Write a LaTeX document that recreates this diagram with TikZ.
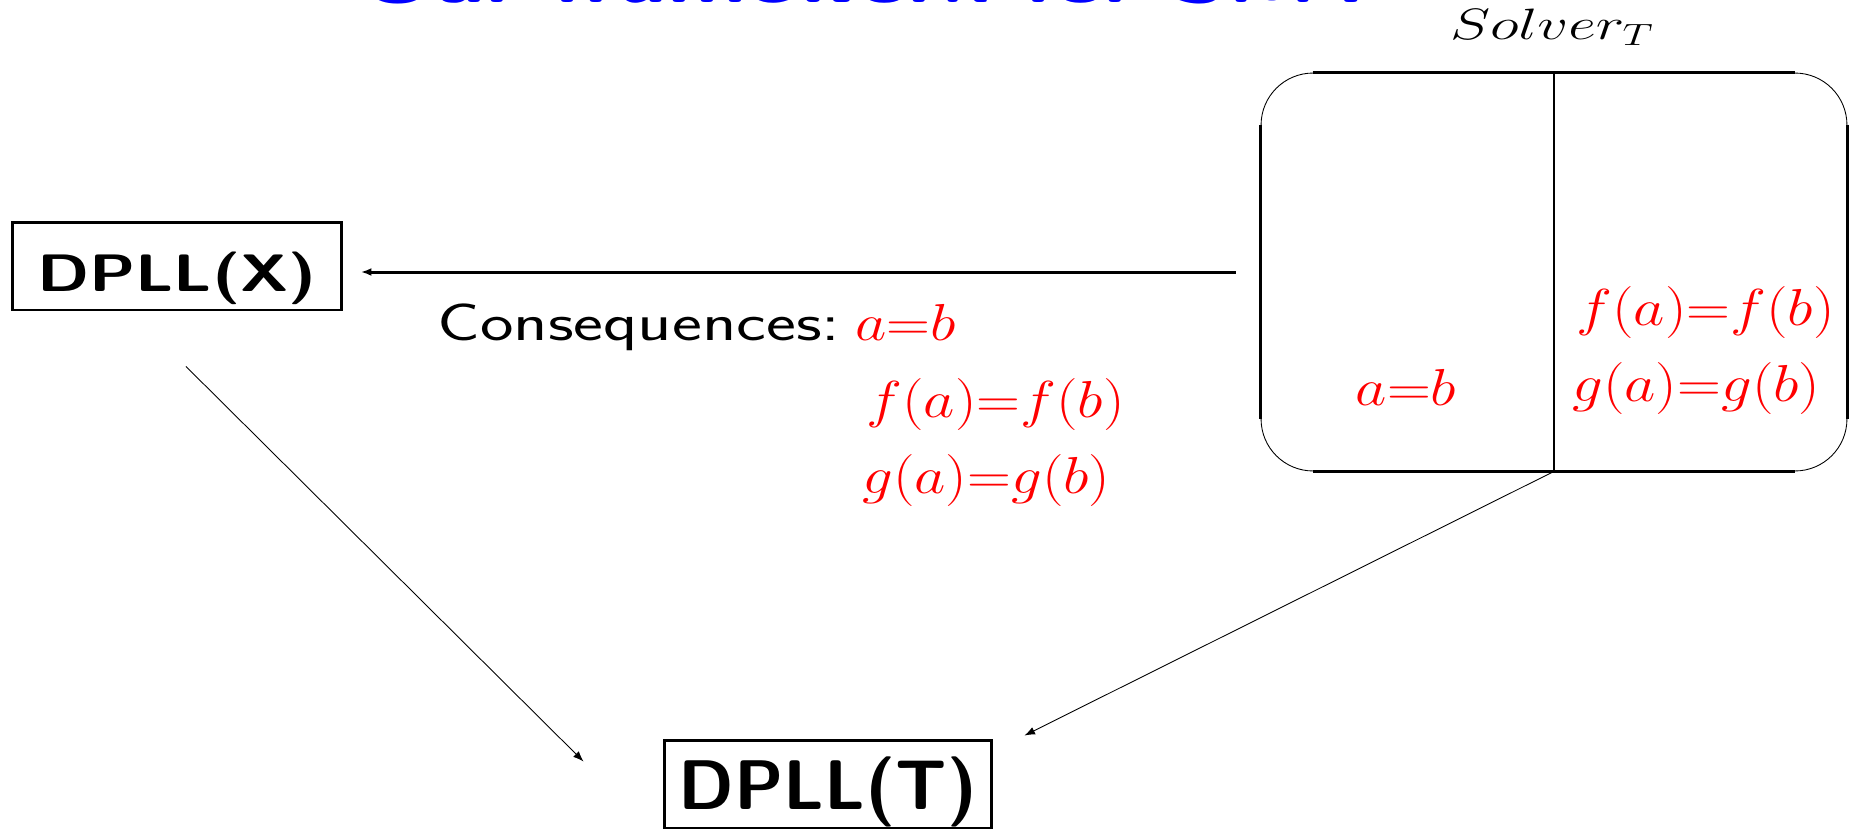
\RequirePackage{fix-cm}
\documentclass[tikz,border=0pt]{standalone}
\usepackage{tikz}
\usetikzlibrary{arrows.meta,positioning,calc}
\tikzset{
  wide/.style={xscale=1.28, inner sep=0pt},
  dpllbox/.style={draw, line width=1.7pt, inner sep=0pt, text height=1.12cm, text depth=0.1cm, minimum height=1.76cm},
  redeq/.style={inner sep=0pt, xscale=1.17, text=red, font=\fontsize{29.6}{35}\selectfont},
  flow/.style={-{Latex[length=6pt,width=4.5pt]}},
}

\begin{document}
\begin{tikzpicture}[x=0.02cm, y=-0.02cm]
    \useasboundingbox (0,0) rectangle (1856,829);
    \clip (0,0) rectangle (1856,829);
    % title, cut off by the top edge
    \node[wide, xscale=1.31/1.28, anchor=base, text=blue, font=\fontsize{40}{48}\selectfont\sffamily\bfseries] (title) at (873,2) {Our framework for SMT};
    % the two DPLL boxes
    \node[dpllbox, xscale=1.25, minimum width=5.25cm, font=\fontsize{30}{36}\selectfont\sffamily\bfseries] (dpllx) at (177,266) {DPLL(X)};
    \node[dpllbox, minimum width=6.56cm, font=\fontsize{40}{48}\selectfont\sffamily\bfseries] (dpllt) at (828,784) {DPLL(T)};
    % theory solver
    \node[draw, line width=0.5pt, rounded corners=1.04cm, minimum width=11.72cm, minimum height=7.96cm] (solver) at (1554,272) {};
    \draw[line width=1.7pt] ($(solver.north west)+(52,0)$) -- ($(solver.north east)+(-52,0)$);
    \draw[line width=1.7pt] ($(solver.south west)+(52,0)$) -- ($(solver.south east)+(-52,0)$);
    \draw[line width=1.7pt] ($(solver.north west)+(0,52)$) -- ($(solver.south west)+(0,-52)$);
    \draw[line width=1.7pt] ($(solver.north east)+(0,52)$) -- ($(solver.south east)+(0,-52)$);
    \draw[line width=1.2pt] (solver.north) -- (solver.south);
    \node[wide, xscale=1.38/1.28, anchor=base, font=\fontsize{25}{30}\selectfont] (solvlabel) at (1552,39) {$Solver_T$};
    \node[redeq, anchor=base] (solvab) at (1406,405) {$a{=}b$};
    \node[redeq, anchor=base west] (solvf) at (1576,325) {$f(a){=}f(b)$};
    \node[redeq, anchor=base west] (solvg) at (1572,401) {$g(a){=}g(b)$};
    % consequences sent back
    \node[wide, xscale=1.35/1.28, anchor=base west, font=\fontsize{30}{36}\selectfont\sffamily] (conseq) at (437,340) {Consequences:};
    \node[redeq, anchor=base west] (consab) at (855,340) {$a{=}b$};
    \node[redeq, anchor=base west] (consf) at (866,417) {$f(a){=}f(b)$};
    \node[redeq, anchor=base west] (consg) at (862,493) {$g(a){=}g(b)$};
    % connectors
    \draw[flow, line width=1.7pt] ($(solver.west)+(-25,0)$) -- ($(dpllx.east |- solver.west)+(18,0)$);
    \draw[flow, line width=0.5pt] ($(dpllx.south)+(9,55)$) -- ($(dpllt.north west)+(-79,23)$);
    \draw[flow, line width=0.5pt] (solver.south) -- ($(dpllt.north east)+(31,-3)$);
\end{tikzpicture}
\end{document}
